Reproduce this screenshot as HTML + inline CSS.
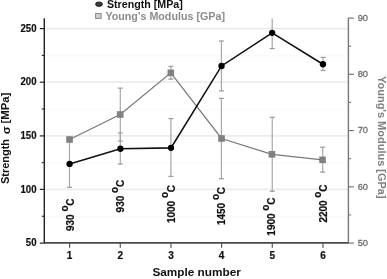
<!DOCTYPE html><html><head><meta charset="utf-8"><style>html,body{margin:0;padding:0;background:#fff;}svg{display:block;filter:grayscale(1);}text{font-family:"Liberation Sans",sans-serif;}</style></head><body>
<svg width="387" height="279" viewBox="0 0 387 279">
<line x1="45.3" y1="28.6" x2="347.4" y2="28.6" stroke="#ececec" stroke-width="1.8"/>
<line x1="45.3" y1="82.2" x2="347.4" y2="82.2" stroke="#ececec" stroke-width="1.8"/>
<line x1="45.3" y1="135.9" x2="347.4" y2="135.9" stroke="#ececec" stroke-width="1.8"/>
<line x1="45.3" y1="189.4" x2="347.4" y2="189.4" stroke="#ececec" stroke-width="1.8"/>
<line x1="45.3" y1="55.800000000000004" x2="347.4" y2="55.800000000000004" stroke="#fafafa" stroke-width="1.6"/>
<line x1="45.3" y1="109.45000000000002" x2="347.4" y2="109.45000000000002" stroke="#fafafa" stroke-width="1.6"/>
<line x1="45.3" y1="163.05" x2="347.4" y2="163.05" stroke="#fafafa" stroke-width="1.6"/>
<line x1="45.3" y1="216.65" x2="347.4" y2="216.65" stroke="#fafafa" stroke-width="1.6"/>
<line x1="69.5" y1="140.3" x2="69.5" y2="187.3" stroke="#a8a8a8" stroke-width="1.2"/><line x1="67.0" y1="140.3" x2="72.0" y2="140.3" stroke="#999" stroke-width="1.2"/><line x1="67.0" y1="187.3" x2="72.0" y2="187.3" stroke="#999" stroke-width="1.2"/>
<line x1="120.3" y1="132.9" x2="120.3" y2="164.0" stroke="#a8a8a8" stroke-width="1.2"/><line x1="117.8" y1="132.9" x2="122.8" y2="132.9" stroke="#999" stroke-width="1.2"/><line x1="117.8" y1="164.0" x2="122.8" y2="164.0" stroke="#999" stroke-width="1.2"/>
<line x1="170.9" y1="118.6" x2="170.9" y2="176.4" stroke="#a8a8a8" stroke-width="1.2"/><line x1="168.4" y1="118.6" x2="173.4" y2="118.6" stroke="#999" stroke-width="1.2"/><line x1="168.4" y1="176.4" x2="173.4" y2="176.4" stroke="#999" stroke-width="1.2"/>
<line x1="221.4" y1="41.0" x2="221.4" y2="90.9" stroke="#a8a8a8" stroke-width="1.2"/><line x1="218.9" y1="41.0" x2="223.9" y2="41.0" stroke="#999" stroke-width="1.2"/><line x1="218.9" y1="90.9" x2="223.9" y2="90.9" stroke="#999" stroke-width="1.2"/>
<line x1="272.2" y1="18.6" x2="272.2" y2="48.5" stroke="#a8a8a8" stroke-width="1.2"/><line x1="269.7" y1="48.5" x2="274.7" y2="48.5" stroke="#999" stroke-width="1.2"/>
<line x1="323.0" y1="57.4" x2="323.0" y2="70.5" stroke="#a8a8a8" stroke-width="1.2"/><line x1="320.5" y1="57.4" x2="325.5" y2="57.4" stroke="#999" stroke-width="1.2"/><line x1="320.5" y1="70.5" x2="325.5" y2="70.5" stroke="#999" stroke-width="1.2"/>
<line x1="69.5" y1="137.5" x2="69.5" y2="141.5" stroke="#a8a8a8" stroke-width="1.2"/><line x1="67.0" y1="137.5" x2="72.0" y2="137.5" stroke="#999" stroke-width="1.2"/><line x1="67.0" y1="141.5" x2="72.0" y2="141.5" stroke="#999" stroke-width="1.2"/>
<line x1="120.3" y1="88.1" x2="120.3" y2="141.1" stroke="#a8a8a8" stroke-width="1.2"/><line x1="117.8" y1="88.1" x2="122.8" y2="88.1" stroke="#999" stroke-width="1.2"/><line x1="117.8" y1="141.1" x2="122.8" y2="141.1" stroke="#999" stroke-width="1.2"/>
<line x1="170.9" y1="66.4" x2="170.9" y2="79.2" stroke="#a8a8a8" stroke-width="1.2"/><line x1="168.4" y1="66.4" x2="173.4" y2="66.4" stroke="#999" stroke-width="1.2"/><line x1="168.4" y1="79.2" x2="173.4" y2="79.2" stroke="#999" stroke-width="1.2"/>
<line x1="221.4" y1="98.4" x2="221.4" y2="178.7" stroke="#a8a8a8" stroke-width="1.2"/><line x1="218.9" y1="98.4" x2="223.9" y2="98.4" stroke="#999" stroke-width="1.2"/><line x1="218.9" y1="178.7" x2="223.9" y2="178.7" stroke="#999" stroke-width="1.2"/>
<line x1="272.25" y1="117.3" x2="272.25" y2="191.3" stroke="#a8a8a8" stroke-width="1.2"/><line x1="269.75" y1="117.3" x2="274.75" y2="117.3" stroke="#999" stroke-width="1.2"/><line x1="269.75" y1="191.3" x2="274.75" y2="191.3" stroke="#999" stroke-width="1.2"/>
<line x1="322.7" y1="147.2" x2="322.7" y2="172.1" stroke="#a8a8a8" stroke-width="1.2"/><line x1="320.2" y1="147.2" x2="325.2" y2="147.2" stroke="#999" stroke-width="1.2"/><line x1="320.2" y1="172.1" x2="325.2" y2="172.1" stroke="#999" stroke-width="1.2"/>
<polyline points="69.55,139.5 120.2,114.5 170.8,72.85 221.55,138.5 271.95,154.3 322.55,159.85" fill="none" stroke="#7a7a7a" stroke-width="1.3"/>
<rect x="66.25" y="136.2" width="6.6" height="6.6" fill="#808080"/>
<rect x="116.9" y="111.2" width="6.6" height="6.6" fill="#808080"/>
<rect x="167.5" y="69.55" width="6.6" height="6.6" fill="#808080"/>
<rect x="218.25" y="135.2" width="6.6" height="6.6" fill="#808080"/>
<rect x="268.65" y="151.0" width="6.6" height="6.6" fill="#808080"/>
<rect x="319.25" y="156.54999999999998" width="6.6" height="6.6" fill="#808080"/>
<polyline points="69.6,163.9 120.4,148.75 171.0,147.85 221.55,65.95 272.15,32.85 322.95,64.25" fill="none" stroke="#111" stroke-width="1.6"/>
<circle cx="69.6" cy="163.9" r="3.15" fill="#000"/>
<circle cx="120.4" cy="148.75" r="3.15" fill="#000"/>
<circle cx="171.0" cy="147.85" r="3.15" fill="#000"/>
<circle cx="221.55" cy="65.95" r="3.15" fill="#000"/>
<circle cx="272.15" cy="32.85" r="3.15" fill="#000"/>
<circle cx="322.95" cy="64.25" r="3.15" fill="#000"/>
<line x1="44.3" y1="18.3" x2="44.3" y2="243.54999999999998" stroke="#222" stroke-width="1.4"/>
<line x1="348.4" y1="17.8" x2="348.4" y2="243.54999999999998" stroke="#777" stroke-width="1.4"/>
<line x1="44.3" y1="242.85" x2="348.4" y2="242.85" stroke="#4a4a4a" stroke-width="1.6"/>
<line x1="39.8" y1="28.6" x2="44.3" y2="28.6" stroke="#222" stroke-width="1.2"/>
<text transform="translate(36.5,31.70) scale(1,1.07)" text-anchor="end" font-size="9.6" font-weight="bold" fill="#111" stroke="#111" stroke-width="0.2">250</text>
<line x1="39.8" y1="82.2" x2="44.3" y2="82.2" stroke="#222" stroke-width="1.2"/>
<text transform="translate(36.5,85.30) scale(1,1.07)" text-anchor="end" font-size="9.6" font-weight="bold" fill="#111" stroke="#111" stroke-width="0.2">200</text>
<line x1="39.8" y1="135.9" x2="44.3" y2="135.9" stroke="#222" stroke-width="1.2"/>
<text transform="translate(36.5,139.00) scale(1,1.07)" text-anchor="end" font-size="9.6" font-weight="bold" fill="#111" stroke="#111" stroke-width="0.2">150</text>
<line x1="39.8" y1="189.4" x2="44.3" y2="189.4" stroke="#222" stroke-width="1.2"/>
<text transform="translate(36.5,192.50) scale(1,1.07)" text-anchor="end" font-size="9.6" font-weight="bold" fill="#111" stroke="#111" stroke-width="0.2">100</text>
<line x1="39.8" y1="243.1" x2="44.3" y2="243.1" stroke="#222" stroke-width="1.2"/>
<text transform="translate(36.5,246.20) scale(1,1.07)" text-anchor="end" font-size="9.6" font-weight="bold" fill="#111" stroke="#111" stroke-width="0.2">50</text>
<line x1="41.8" y1="55.400000000000006" x2="44.3" y2="55.400000000000006" stroke="#222" stroke-width="1.1"/>
<line x1="41.8" y1="109.05000000000001" x2="44.3" y2="109.05000000000001" stroke="#222" stroke-width="1.1"/>
<line x1="41.8" y1="162.65" x2="44.3" y2="162.65" stroke="#222" stroke-width="1.1"/>
<line x1="41.8" y1="216.25" x2="44.3" y2="216.25" stroke="#222" stroke-width="1.1"/>
<line x1="348.4" y1="18.1" x2="353.9" y2="18.1" stroke="#777" stroke-width="1.2"/>
<text x="357.7" y="20.900000000000002" font-size="9.3" fill="#6e6e6e" stroke="#6e6e6e" stroke-width="0.3">90</text>
<line x1="348.4" y1="74.3" x2="353.9" y2="74.3" stroke="#777" stroke-width="1.2"/>
<text x="357.7" y="77.1" font-size="9.3" fill="#6e6e6e" stroke="#6e6e6e" stroke-width="0.3">80</text>
<line x1="348.4" y1="130.6" x2="353.9" y2="130.6" stroke="#777" stroke-width="1.2"/>
<text x="357.7" y="133.4" font-size="9.3" fill="#6e6e6e" stroke="#6e6e6e" stroke-width="0.3">70</text>
<line x1="348.4" y1="186.8" x2="353.9" y2="186.8" stroke="#777" stroke-width="1.2"/>
<text x="357.7" y="189.60000000000002" font-size="9.3" fill="#6e6e6e" stroke="#6e6e6e" stroke-width="0.3">60</text>
<line x1="348.4" y1="243.1" x2="353.9" y2="243.1" stroke="#777" stroke-width="1.2"/>
<text x="357.7" y="245.9" font-size="9.3" fill="#6e6e6e" stroke="#6e6e6e" stroke-width="0.3">50</text>
<line x1="348.4" y1="46.2" x2="351.2" y2="46.2" stroke="#777" stroke-width="1.1"/>
<line x1="348.4" y1="102.44999999999999" x2="351.2" y2="102.44999999999999" stroke="#777" stroke-width="1.1"/>
<line x1="348.4" y1="158.7" x2="351.2" y2="158.7" stroke="#777" stroke-width="1.1"/>
<line x1="348.4" y1="214.95" x2="351.2" y2="214.95" stroke="#777" stroke-width="1.1"/>
<line x1="69.6" y1="242.85" x2="69.6" y2="247.85" stroke="#555" stroke-width="1.2"/>
<text x="69.6" y="259.3" text-anchor="middle" font-size="10" font-weight="bold" fill="#111" stroke="#111" stroke-width="0.2">1</text>
<line x1="120.27" y1="242.85" x2="120.27" y2="247.85" stroke="#555" stroke-width="1.2"/>
<text x="120.27" y="259.3" text-anchor="middle" font-size="10" font-weight="bold" fill="#111" stroke="#111" stroke-width="0.2">2</text>
<line x1="170.94" y1="242.85" x2="170.94" y2="247.85" stroke="#555" stroke-width="1.2"/>
<text x="170.94" y="259.3" text-anchor="middle" font-size="10" font-weight="bold" fill="#111" stroke="#111" stroke-width="0.2">3</text>
<line x1="221.60999999999999" y1="242.85" x2="221.60999999999999" y2="247.85" stroke="#555" stroke-width="1.2"/>
<text x="221.60999999999999" y="259.3" text-anchor="middle" font-size="10" font-weight="bold" fill="#111" stroke="#111" stroke-width="0.2">4</text>
<line x1="272.28" y1="242.85" x2="272.28" y2="247.85" stroke="#555" stroke-width="1.2"/>
<text x="272.28" y="259.3" text-anchor="middle" font-size="10" font-weight="bold" fill="#111" stroke="#111" stroke-width="0.2">5</text>
<line x1="322.95000000000005" y1="242.85" x2="322.95000000000005" y2="247.85" stroke="#555" stroke-width="1.2"/>
<text x="322.95000000000005" y="259.3" text-anchor="middle" font-size="10" font-weight="bold" fill="#111" stroke="#111" stroke-width="0.2">6</text>
<text x="152.4" y="275.7" font-size="11.7" font-weight="bold" fill="#111" textLength="88.4" lengthAdjust="spacingAndGlyphs">Sample number</text>
<text transform="translate(9.4,184.0) rotate(-90)" font-size="11.2" font-weight="bold" fill="#111" textLength="45.0" lengthAdjust="spacingAndGlyphs">Strength</text>
<text transform="translate(10.3,134.3) rotate(-90)" font-size="11.8" font-weight="bold" fill="#111">σ</text>
<text transform="translate(9.4,123.6) rotate(-90)" font-size="11.5" font-weight="bold" fill="#111" textLength="31.0" lengthAdjust="spacingAndGlyphs">[MPa]</text>
<text transform="translate(378.4,76.0) rotate(90)" font-size="11" font-weight="bold" fill="#808080" textLength="122.6" lengthAdjust="spacingAndGlyphs">Young's Modulus [GPa]</text>
<ellipse cx="99" cy="4.2" rx="3.4" ry="2.2" fill="#3c3c3c" stroke="#151515" stroke-width="0.9"/>
<text x="106.9" y="7.75" font-size="10.2" font-weight="bold" fill="#111" textLength="75.9" lengthAdjust="spacingAndGlyphs">Strength [MPa]</text>
<rect x="95.6" y="13.5" width="5.5" height="4.9" fill="#d0d0d0" stroke="#8a8a8a" stroke-width="1"/>
<text x="105.4" y="19.7" font-size="10.1" font-weight="bold" fill="#8c8c8c" textLength="119.6" lengthAdjust="spacingAndGlyphs">Young's Modulus [GPa]</text>
<text transform="translate(74.3,231.00) rotate(-90) scale(1,1.04)" font-size="10" font-weight="bold" fill="#111" stroke="#111" stroke-width="0.2">930<tspan x="19.40" y="-5.9">o</tspan><tspan x="25.35" y="0">C</tspan></text>
<text transform="translate(123.8,212.40) rotate(-90) scale(1,1.04)" font-size="10" font-weight="bold" fill="#111" stroke="#111" stroke-width="0.2">930<tspan x="19.40" y="-5.9">o</tspan><tspan x="25.35" y="0">C</tspan></text>
<text transform="translate(174.6,223.05) rotate(-90) scale(1,1.04)" font-size="10" font-weight="bold" fill="#111" stroke="#111" stroke-width="0.2">1000<tspan x="24.96" y="-5.9">o</tspan><tspan x="30.91" y="0">C</tspan></text>
<text transform="translate(224.8,225.05) rotate(-90) scale(1,1.04)" font-size="10" font-weight="bold" fill="#111" stroke="#111" stroke-width="0.2">1450<tspan x="24.96" y="-5.9">o</tspan><tspan x="30.91" y="0">C</tspan></text>
<text transform="translate(274.8,235.65) rotate(-90) scale(1,1.04)" font-size="10" font-weight="bold" fill="#111" stroke="#111" stroke-width="0.2">1900<tspan x="24.96" y="-5.9">o</tspan><tspan x="30.91" y="0">C</tspan></text>
<text transform="translate(327.4,222.60) rotate(-90) scale(1,1.04)" font-size="10" font-weight="bold" fill="#111" stroke="#111" stroke-width="0.2">2200<tspan x="24.96" y="-5.9">o</tspan><tspan x="30.91" y="0">C</tspan></text>
</svg></body></html>
